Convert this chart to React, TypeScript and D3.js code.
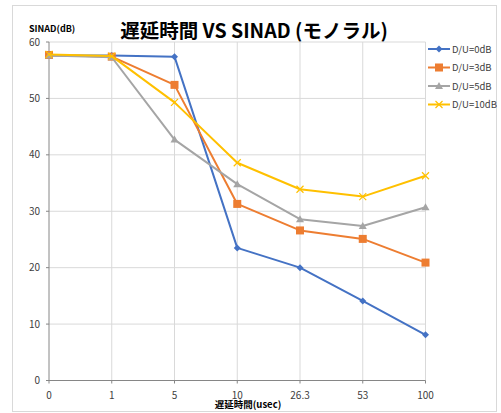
import * as d3 from "d3";

const categories = ["0", "1", "5", "10", "26.3", "53", "100"];
const yTicks = [0, 10, 20, 30, 40, 50, 60];

const du0 = [57.6, 57.6, 57.4, 23.5, 20.0, 14.1, 8.1];
const du3 = [57.7, 57.4, 52.4, 31.3, 26.6, 25.1, 20.9];
const du5 = [57.6, 57.3, 42.7, 34.8, 28.6, 27.4, 30.7];
const du10 = [57.8, 57.5, 49.3, 38.6, 33.9, 32.6, 36.3];

const seriesNames = ["D/U=0dB", "D/U=3dB", "D/U=5dB", "D/U=10dB"];
const seriesValues = [du0, du3, du5, du10];
const seriesColors = ["#4472C4", "#ED7D31", "#A5A5A5", "#FFC000"];
const seriesMarkers = ["diamond", "square", "triangle", "x"];

const font = "'Noto Sans CJK JP', 'Noto Sans', sans-serif";

function Marker({ kind, x, y, color }: { kind: string; x: number; y: number; color: string }) {
  if (kind === "diamond") {
    return <path d={`M${x},${y - 3.5}L${x + 3.5},${y}L${x},${y + 3.5}L${x - 3.5},${y}Z`} fill={color} />;
  }
  if (kind === "square") {
    return <rect x={x - 4} y={y - 4} width={8} height={8} fill={color} />;
  }
  if (kind === "triangle") {
    return <path d={`M${x},${y - 4}L${x + 4},${y + 3}L${x - 4},${y + 3}Z`} fill={color} />;
  }
  return (
    <path
      d={`M${x - 3.5},${y - 3.5}L${x + 3.5},${y + 3.5}M${x + 3.5},${y - 3.5}L${x - 3.5},${y + 3.5}`}
      stroke={color}
      strokeWidth={1.2}
    />
  );
}

export default function App() {
  const width = 501;
  const height = 413;
  const left = 49;
  const right = 425.5;
  const top = 42;
  const bottom = 380.5;

  const x = d3.scalePoint<string>().domain(categories).range([left, right]).padding(0);
  const y = d3.scaleLinear().domain([0, 60]).range([bottom, top]);
  const line = d3
    .line<number>()
    .x((_, i) => x(categories[i]) ?? 0)
    .y((d) => y(d));

  const legendY = d3.scaleLinear().domain([0, 3]).range([49, 104.5]);

  return (
    <svg
      width={width}
      height={height}
      style={{ position: "absolute", left: 0, top: 0, fontFamily: font }}
      viewBox={`0 0 ${width} ${height}`}
    >
      <rect x={0} y={0} width={width} height={height} fill="#ffffff" />
      <rect x={12.5} y={5.5} width={484} height={406} fill="#ffffff" stroke="#d9d9d9" />

      <text x={254} y={37.5} textAnchor="middle" fontSize={19.5} fontWeight={700} fill="#000">
        遅延時間 VS SINAD (モノラル)
      </text>
      <text x={29} y={32} fontSize={9} fontWeight={700} fill="#000">
        SINAD(dB)
      </text>

      {yTicks.map((t) => (
        <g key={t}>
          {t > 0 && <line x1={left} x2={right} y1={y(t)} y2={y(t)} stroke="#d9d9d9" strokeWidth={1} />}
          <line x1={left - 3} x2={left} y1={y(t)} y2={y(t)} stroke="#868686" />
          <text x={40} y={y(t) + 3.5} textAnchor="end" fontSize={10} fill="#404040">
            {t}
          </text>
        </g>
      ))}

      {categories.map((c) => (
        <g key={c}>
          {c !== "0" && <line x1={x(c)} x2={x(c)} y1={top} y2={bottom} stroke="#d9d9d9" strokeWidth={1} />}
          <line x1={x(c)} x2={x(c)} y1={bottom} y2={bottom + 3} stroke="#868686" />
          <text x={x(c)} y={398.5} textAnchor="middle" fontSize={10} fill="#404040">
            {c}
          </text>
        </g>
      ))}

      <line x1={left} x2={left} y1={top} y2={bottom} stroke="#868686" />
      <line x1={left} x2={right} y1={bottom} y2={bottom} stroke="#868686" />

      <text x={248} y={407.5} textAnchor="middle" fontSize={9.5} fontWeight={700} fill="#000">
        遅延時間(usec)
      </text>

      {seriesValues.map((vals, si) => (
        <g key={seriesNames[si]}>
          <path d={line(vals) ?? ""} fill="none" stroke={seriesColors[si]} strokeWidth={2} strokeLinejoin="round" />
          {vals.map((v, i) => (
            <Marker key={i} kind={seriesMarkers[si]} x={x(categories[i]) ?? 0} y={y(v)} color={seriesColors[si]} />
          ))}
        </g>
      ))}

      {seriesNames.map((name, si) => {
        const ly = legendY(si);
        return (
          <g key={name}>
            <line x1={428} x2={450} y1={ly} y2={ly} stroke={seriesColors[si]} strokeWidth={2} />
            <Marker kind={seriesMarkers[si]} x={439} y={ly} color={seriesColors[si]} />
            <text x={452} y={ly + 3.5} fontSize={9.5} fill="#404040">
              {name}
            </text>
          </g>
        );
      })}
    </svg>
  );
}
